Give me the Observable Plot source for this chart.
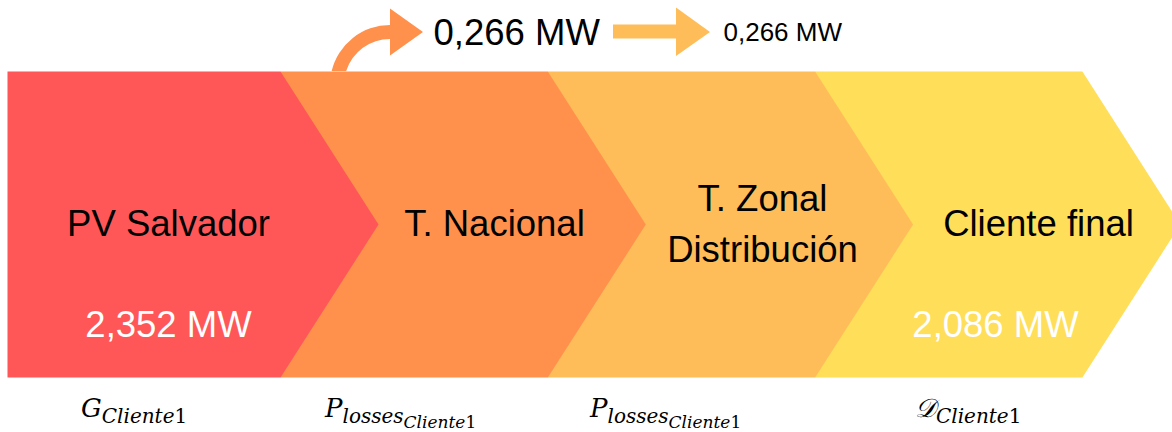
<!DOCTYPE html>
<html><head><meta charset="utf-8">
<script src="https://cdn.jsdelivr.net/npm/d3@7"></script>
<script src="https://cdn.jsdelivr.net/npm/@observablehq/plot@0.6"></script>
<style>html,body{margin:0;padding:0;background:#fff;overflow:hidden;} svg{display:block;}</style>
</head><body><div id="chart"></div>
<script>
// ---- data ----
const stages = ["PV Salvador", "T. Nacional", "T. Zonal\nDistribución", "Cliente final"];
const stageColors = ["#FF5757", "#FF914D", "#FFBD59", "#FFDE59"];
const flowStages = ["PV Salvador", "Cliente final"];
const flowValues = [2.352, 2.086];
const lossStages = ["T. Nacional", "T. Zonal\nDistribución"];
const lossValues = [0.266, 0.266];
const symbolBases = ["G", "P", "P", "\u{1D49F}"];
const symbolSubs = [["Cliente"], ["losses", "Cliente"], ["losses", "Cliente"], ["Cliente"]];
const symbolIndex = ["1", "1", "1", "1"];
const unit = "MW";

// ---- layout (not data) ----
const W = 1172, H = 432;
const band = {top: 71, bottom: 377, left: 7, firstEdge: 280, period: 267.3, tip: 98};
const mid = (band.top + band.bottom) / 2;
const stageLabelX = [168, 494, 762, 1038];
const flowLabelX = [168, 995];
const lossLabelX = [433, 723];
const lossLabelSize = [36.5, 26];
const lossLabelY = [44, 40];
const symbolX = [81, 325, 590, 915];
const symbolY = 417;
const symbolSize = [26, 20, 17];
const symbolDy = [0, 6, 5];

const fmt = d3.formatLocale({decimal: ",", thousands: ".", grouping: [3], currency: ["", ""]}).format(".3f");

function chevron(i) {
  const right = band.firstEdge + i * band.period;
  const left = i === 0 ? band.left : right - band.period;
  return [[left, band.top], [right, band.top], [right + band.tip, mid], [right, band.bottom], [left, band.bottom]];
}

// chevrons drawn right-to-left so each tip covers the next one's notch
const chevronMarks = d3.range(stages.length).reverse().map(i =>
  Plot.line(chevron(i), {x: d => d[0], y: d => d[1], fill: stageColors[i], stroke: "none", curve: "linear-closed"})
);

// loss arrows (custom render using the plot scales)
const arrowMark = (index, {x, y}) => {
  const g = d3.create("svg:g");
  const cx = 390, cy = 85, R = 60, r = 46;
  const ox = cx - Math.sqrt(R * R - (cy - band.top) ** 2);
  const ix = cx - Math.sqrt(r * r - (cy - band.top) ** 2);
  const d1 = `M${x(ox)},${y(band.top)} A${R},${R} 0 0 1 ${x(cx)},${y(cy - R)} L${x(cx)},${y(8.5)} L${x(423)},${y(32)} L${x(cx)},${y(55.5)} L${x(cx)},${y(cy - r)} A${r},${r} 0 0 0 ${x(ix)},${y(band.top)} Z`;
  g.append("path").attr("d", d1).attr("fill", stageColors[1]);
  const d2 = `M${x(613)},${y(24.5)} L${x(676)},${y(24.5)} L${x(676)},${y(7.5)} L${x(710)},${y(32)} L${x(676)},${y(56)} L${x(676)},${y(38.5)} L${x(613)},${y(38.5)} Z`;
  g.append("path").attr("d", d2).attr("fill", stageColors[2]);
  return g.node();
};

// math symbols below the band
const symbolMark = (index, {x, y}) => {
  const g = d3.create("svg:g").attr("font-family", "DejaVu Serif").attr("fill", "#000").attr("text-anchor", "start");
  symbolBases.forEach((b, i) => {
    const t = g.append("text").attr("x", x(symbolX[i])).attr("y", y(symbolY)).attr("text-anchor", "start");
    t.append("tspan").attr("font-size", symbolSize[0]).attr("font-style", "italic").text(b);
    symbolSubs[i].forEach((s, k) => {
      t.append("tspan").attr("font-size", symbolSize[k + 1]).attr("font-style", "italic").attr("dy", symbolDy[k + 1]).text(s);
    });
    t.append("tspan").attr("font-size", symbolSize[symbolSubs[i].length]).text(symbolIndex[i]);
  });
  return g.node();
};

const stageData = stages.map((s, i) => ({stage: s, x: stageLabelX[i]}));
const flowData = flowStages.map((s, i) => ({label: `${fmt(flowValues[i])} ${unit}`, x: flowLabelX[i]}));
const lossData = lossStages.map((s, i) => ({label: `${fmt(lossValues[i])} ${unit}`, x: lossLabelX[i], y: lossLabelY[i], size: lossLabelSize[i]}));

const chart = Plot.plot({
  width: W, height: H, margin: 0,
  x: {domain: [0, W], range: [0, W], axis: null},
  y: {domain: [0, H], range: [0, H], axis: null},
  style: {background: "#fff", fontFamily: "'Liberation Sans', Arial, sans-serif", overflow: "hidden"},
  marks: [
    arrowMark,
    ...chevronMarks,
    Plot.text(stageData, {x: "x", y: () => 219.5, text: "stage", fontSize: 36.5, lineHeight: 1.4, lineAnchor: "middle", textAnchor: "middle", fill: "#000"}),
    Plot.text(flowData, {x: "x", y: () => 336, text: "label", fontSize: 36.5, lineAnchor: "bottom", textAnchor: "middle", fill: "#fff"}),
    ...lossData.map(d => Plot.text([d], {x: "x", y: "y", text: "label", fontSize: d.size, lineAnchor: "bottom", textAnchor: "start", fill: "#000"})),
    symbolMark
  ]
});
document.getElementById("chart").appendChild(chart);
</script>
</body></html>
